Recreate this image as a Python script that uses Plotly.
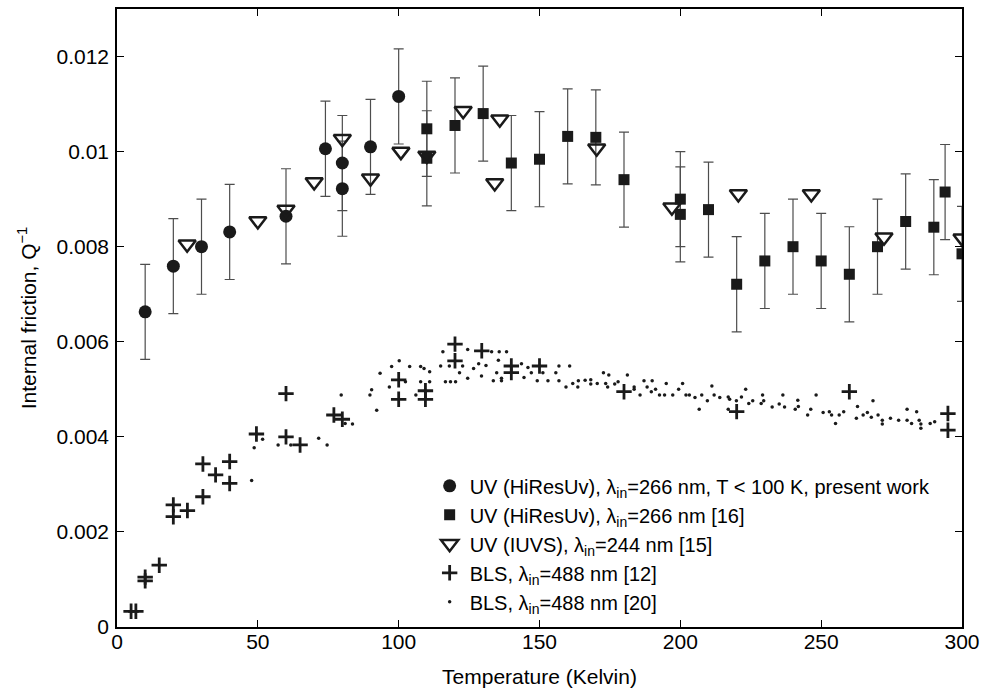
import plotly.graph_objects as go

# ---- data ----
circ_T = [10, 20, 30, 40, 60, 74, 80, 80, 90, 100]
circ_Q = [0.00663, 0.00759, 0.0080, 0.00831, 0.00864, 0.01006, 0.00976, 0.00922, 0.0101, 0.01116]

sq_T = [110, 110, 120, 130, 140, 150, 160, 170, 180, 200, 200, 210, 220, 230, 240, 250, 260, 270, 280, 290, 294, 300]
sq_Q = [0.01048, 0.00986, 0.01055, 0.0108, 0.00976, 0.00984, 0.01032, 0.0103, 0.00941, 0.0090, 0.00868,
        0.00878, 0.00721, 0.0077, 0.0080, 0.0077, 0.00742, 0.0080, 0.00853, 0.00841, 0.00915, 0.00785]

uv_err = 0.001

tri_T = [24.9, 50, 60, 70, 80, 90, 100.8, 110, 122.9, 134.1, 135.9, 170.3, 197, 220.6, 246.5, 272.3, 300]
tri_Q = [0.00805, 0.00854, 0.00878, 0.00936, 0.01027, 0.00944, 0.0100, 0.00992, 0.01086, 0.00934, 0.01068,
         0.01007, 0.00883, 0.00911, 0.00911, 0.0082, 0.00818]

cross_T = [5, 6.7, 10, 10, 15, 20, 20, 25, 30.5, 30.5, 35, 40, 40, 49.5, 60, 60, 65, 77, 80, 100, 100,
           109.5, 109.5, 120, 120, 129.5, 140, 140, 150, 180, 220, 260, 295, 295]
cross_Q = [0.00033, 0.00033, 0.00105, 0.00097, 0.0013, 0.00257, 0.00232, 0.00245, 0.00343, 0.00274, 0.0032,
           0.00348, 0.00302, 0.00406, 0.00491, 0.0040, 0.00383, 0.00446, 0.00437, 0.0052, 0.00479,
           0.00497, 0.00479, 0.00595, 0.0056, 0.00581, 0.00549, 0.00535, 0.00549, 0.00495, 0.00453,
           0.00495, 0.00449, 0.00414]

dot_T = [47.8, 48.7, 51.7, 57.2, 61.7, 71.6, 74.6, 79.6, 81, 83.6, 89.8, 90.4, 92.2, 93.4, 96.7, 97.5,
         100.2, 102.4, 103.9, 106.1, 107.8, 107.8, 109, 111, 111, 114.9, 115.7, 116.6, 118.4, 120.2, 118,
         121.6, 122.7, 124.5, 124.5, 126.6, 128.4, 129.4, 131, 133, 135.7, 138.3, 133.6, 134.8, 135.4,
         136.5, 136.5, 143.6, 144.5, 145.9, 147.1, 149.2, 151.2, 153, 155.8, 156.9, 156.9, 159.4, 160.7,
         161.8, 163.8, 163.6, 166.2, 168.2, 168.2, 170.5, 172.7, 173.5, 174.2, 174.6, 176.7, 177.9, 181.2,
         183.6, 183.6, 185.7, 187.1, 188.2, 190, 189.7, 191.2, 192.6, 194.4, 195, 197.3, 199.4, 200.8,
         202, 203.2, 205.2, 206.7, 207.6, 209.6, 211.2, 212, 214, 217, 217.5, 217, 219.9, 221.7, 223.2,
         224.3, 225.7, 228.7, 229.2, 229.6, 232.6, 235.1, 236.4, 237, 240.8, 241.7, 241.9, 245.2, 246.3,
         248.2, 250.7, 252.9, 253.7, 255.1, 256.4, 258, 262.5, 262.9, 264.9, 266.4, 267.8, 268.4, 270.2,
         271.7, 271.7, 274.6, 277.5, 280.5, 280.5, 282.1, 283.9, 284.8, 285.4, 285.4, 288.7, 290.3]
dot_Q = [0.00308, 0.00377, 0.00395, 0.00383, 0.00383, 0.00397, 0.00383, 0.00488, 0.00428, 0.00427, 0.00488,
         0.00499, 0.00456, 0.00534, 0.00505, 0.00548, 0.0056, 0.00516, 0.00548, 0.00488, 0.00548, 0.00516,
         0.00544, 0.00516, 0.00537, 0.00549, 0.00579, 0.00516, 0.00516, 0.00516, 0.00549, 0.00535, 0.00549,
         0.00584, 0.00523, 0.00544, 0.00554, 0.00528, 0.0055, 0.00579, 0.00579, 0.00579, 0.00518, 0.00535,
         0.00561, 0.00523, 0.00518, 0.00554, 0.00525, 0.00546, 0.00535, 0.00518, 0.00535, 0.00518, 0.00535,
         0.00549, 0.00518, 0.00505, 0.00549, 0.00512, 0.00518, 0.00505, 0.00519, 0.0052, 0.00511, 0.00512,
         0.00535, 0.00512, 0.00505, 0.0053, 0.00511, 0.00516, 0.0053, 0.00505, 0.0050, 0.00488, 0.00518,
         0.00505, 0.00518, 0.00495, 0.0050, 0.00488, 0.00488, 0.00512, 0.00488, 0.0050, 0.00512, 0.00488,
         0.00488, 0.00483, 0.00458, 0.00488, 0.00476, 0.00507, 0.00488, 0.00483, 0.00484, 0.00479, 0.00458,
         0.00476, 0.00484, 0.0050, 0.0047, 0.00476, 0.0047, 0.00488, 0.00476, 0.00463, 0.00469, 0.00488,
         0.00463, 0.00458, 0.00477, 0.00464, 0.00446, 0.00458, 0.00488, 0.00451, 0.00453, 0.00446, 0.00428,
         0.00446, 0.00453, 0.00439, 0.00464, 0.00446, 0.00451, 0.00441, 0.00476, 0.00446, 0.00435, 0.00427,
         0.00439, 0.00435, 0.00458, 0.00435, 0.00428, 0.00453, 0.00435, 0.00427, 0.00418, 0.00428, 0.00432]

x_ticks = [0, 50, 100, 150, 200, 250, 300]
y_ticks = [0, 0.002, 0.004, 0.006, 0.008, 0.010, 0.012]
y_ticktext = ["0", "0.002", "0.004", "0.006", "0.008", "0.01", "0.012"]

names = [
    "UV (HiResUv), λ<sub>in</sub>=266 nm, T &lt; 100 K, present work",
    "UV (HiResUv), λ<sub>in</sub>=266 nm [16]",
    "UV (IUVS), λ<sub>in</sub>=244 nm [15]",
    "BLS, λ<sub>in</sub>=488 nm [12]",
    "BLS, λ<sub>in</sub>=488 nm [20]",
]

FONT = "Liberation Sans, Arial, sans-serif"
INK = "#1a1a1a"
err_style = dict(type="constant", value=uv_err, color="#4d4d4d", thickness=1.2, width=5)

fig = go.Figure()
fig.add_trace(go.Scatter(x=dot_T, y=dot_Q, mode="markers", name=names[4], legendrank=5,
                         marker=dict(symbol="circle", size=3.5, color=INK)))
fig.add_trace(go.Scatter(x=cross_T, y=cross_Q, mode="markers", name=names[3], legendrank=4,
                         marker=dict(symbol="cross-thin-open", size=11, color=INK,
                                     line=dict(width=2.8, color=INK))))
fig.add_trace(go.Scatter(x=sq_T, y=sq_Q, mode="markers", name=names[1], legendrank=2,
                         error_y=err_style,
                         marker=dict(symbol="square", size=11, color=INK)))
fig.add_trace(go.Scatter(x=circ_T, y=circ_Q, mode="markers", name=names[0], legendrank=1,
                         error_y=err_style,
                         marker=dict(symbol="circle", size=13, color=INK)))
fig.add_trace(go.Scatter(x=tri_T, y=tri_Q, mode="markers", name=names[2], legendrank=3,
                         marker=dict(symbol="triangle-down-open", size=15, color=INK,
                                     line=dict(width=2.5, color=INK))))

axis_common = dict(showline=True, linecolor="black", linewidth=1.5, mirror="allticks",
                   ticks="inside", ticklen=7, tickwidth=1, tickcolor="black",
                   showgrid=False, zeroline=False,
                   tickfont=dict(family=FONT, size=21, color="black"))

fig.update_xaxes(range=[0, 300], tickvals=x_ticks, ticklabelstandoff=-5,
                 title=dict(text="Temperature (Kelvin)", font=dict(family=FONT, size=21, color="black"),
                            standoff=17),
                 **axis_common)
fig.update_yaxes(range=[0, 0.013], tickvals=y_ticks, ticktext=y_ticktext, ticklabelstandoff=2,
                 title=dict(text="Internal friction, Q<sup>−1</sup>",
                            font=dict(family=FONT, size=21, color="black"), standoff=14),
                 **axis_common)

fig.update_layout(
    width=987, height=693,
    margin=dict(l=117, r=20, t=7, b=66),
    plot_bgcolor="white", paper_bgcolor="white",
    font=dict(family=FONT, size=20, color="black"),
    legend=dict(x=0.37, y=0.26, xanchor="left", yanchor="top",
                bgcolor="rgba(0,0,0,0)", font=dict(family=FONT, size=20, color="black"),
                tracegroupgap=0, itemsizing="trace"),
    showlegend=True,
)

fig.write_html("out.html", config={"displayModeBar": False},
               post_script="document.body.style.margin='0px';")
